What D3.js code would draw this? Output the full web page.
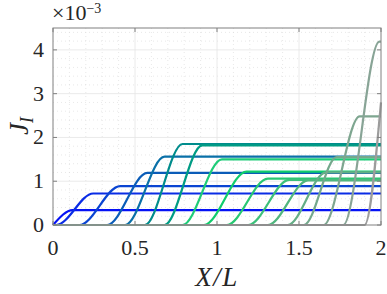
<!DOCTYPE html>
<html>
<head>
<meta charset="utf-8">
<script src="https://cdn.jsdelivr.net/npm/d3@7"></script>
<style>
  body { margin: 0; background: #fff; }
  svg { display: block; }
</style>
</head>
<body>
<div id="chart"></div>
<script>
// front snapshots: where the front leaves zero, where it reaches the plateau, plateau level (x1e-3)
const frontStart = [0, 0.02, 0.16, 0.33, 0.44, 0.56, 0.68, 0.79, 0.92, 1.06, 1.19, 1.31, 1.43, 1.53, 1.65, 1.77, 1.90]
const frontTop   = [0.12, 0.245, 0.41, 0.575, 0.68, 0.79, 0.91, 1.03, 1.18, 1.31, 1.44, 1.555, 1.665, 1.73, 1.87, 1.99, 2.0]
const plateau    = [0.34, 0.72, 0.89, 1.19, 1.56, 1.85, 1.82, 1.50, 1.22, 1.06, 1.03, 1.02, 1.20, 1.55, 2.48, 4.19, 2.8]
const lineColors = ['#0512f5', '#0a2ce6', '#0a44d2', '#0a5cb8', '#0a70a8', '#008c8c', '#009c84', '#1ecc78',
                    '#10cc6c', '#28c872', '#3cc07a', '#50b67e', '#64ae86', '#74a88c', '#7ea690', '#88a496', '#9c9c9c']
// the last snapshot is only recorded on its right part
const recordFrom = [0, 0, 0, 0, 0, 0, 0, 0, 0, 0, 0, 0, 0, 0, 0, 0, 0.9]

const xTicks = [0, 0.5, 1, 1.5, 2]
const yTicks = [0, 1, 2, 3, 4]
const xMinor = d3.range(1, 20).map(i => i / 10)
const yMinor = d3.range(1, 23).map(i => i / 5)

const W = 387, H = 294
const FONT = '"Liberation Serif", "DejaVu Serif", serif'
const x = d3.scaleLinear().domain([0, 2]).range([53, 381])
const y = d3.scaleLinear().domain([0, 4.5]).range([225, 28])

const svg = d3.select('#chart').append('svg')
    .attr('width', W)
    .attr('height', H)
    .style('font-family', FONT)

// minor grid (dotted)
svg.append('g').selectAll('line')
    .data(xMinor.filter(v => !xTicks.includes(v)))
    .join('line')
    .attr('x1', d => x(d)).attr('x2', d => x(d))
    .attr('y1', y(0)).attr('y2', y(4.5))
    .attr('stroke', '#d8d8d8').attr('stroke-width', 0.6)
    .attr('stroke-dasharray', '1,3')
svg.append('g').selectAll('line')
    .data(yMinor.filter(v => !yTicks.includes(v)))
    .join('line')
    .attr('x1', x(0)).attr('x2', x(2))
    .attr('y1', d => y(d)).attr('y2', d => y(d))
    .attr('stroke', '#d8d8d8').attr('stroke-width', 0.6)
    .attr('stroke-dasharray', '1,3')

// major grid
svg.append('g').selectAll('line')
    .data(xTicks.slice(1, -1))
    .join('line')
    .attr('x1', d => x(d)).attr('x2', d => x(d))
    .attr('y1', y(0)).attr('y2', y(4.5))
    .attr('stroke', '#e4e4e4').attr('stroke-width', 0.8)
svg.append('g').selectAll('line')
    .data(yTicks.slice(1))
    .join('line')
    .attr('x1', x(0)).attr('x2', x(2))
    .attr('y1', d => y(d)).attr('y2', d => y(d))
    .attr('stroke', '#e4e4e4').attr('stroke-width', 0.8)

// snapshots
const line = d3.line()
    .x(d => x(d[0]))
    .y(d => y(d[1]))
    .curve(d3.curveMonotoneX)

const curves = plateau.map((p, i) => {
    let pts = []
    if (frontStart[i] > recordFrom[i]) pts.push([recordFrom[i], 0])
    pts.push([frontStart[i], 0])
    pts.push([frontTop[i], p])
    if (frontTop[i] < 2) pts.push([2, p])
    return pts
})

svg.append('g')
    .selectAll('path')
    .data(curves)
    .join('path')
    .attr('d', line)
    .attr('fill', 'none')
    .attr('stroke', (d, i) => lineColors[i])
    .attr('stroke-width', 2.2)

// box + inward ticks
const axisColor = '#808080'
svg.append('rect')
    .attr('x', x(0)).attr('y', y(4.5))
    .attr('width', x(2) - x(0)).attr('height', y(0) - y(4.5))
    .attr('fill', 'none').attr('stroke', axisColor).attr('stroke-width', 1)

const tickLen = 4
const tk = svg.append('g').attr('stroke', axisColor).attr('stroke-width', 1)
xTicks.forEach(v => {
    tk.append('line').attr('x1', x(v)).attr('x2', x(v)).attr('y1', y(0)).attr('y2', y(0) - tickLen)
    tk.append('line').attr('x1', x(v)).attr('x2', x(v)).attr('y1', y(4.5)).attr('y2', y(4.5) + tickLen)
})
yTicks.forEach(v => {
    tk.append('line').attr('x1', x(0)).attr('x2', x(0) + tickLen).attr('y1', y(v)).attr('y2', y(v))
    tk.append('line').attr('x1', x(2)).attr('x2', x(2) - tickLen).attr('y1', y(v)).attr('y2', y(v))
})

// tick labels
svg.append('g').selectAll('text')
    .data(xTicks)
    .join('text')
    .attr('x', d => x(d))
    .attr('y', 255)
    .attr('text-anchor', 'middle')
    .attr('font-family', FONT)
    .attr('font-size', 22)
    .attr('fill', '#262626')
    .text(d => d)
svg.append('g').selectAll('text')
    .data(yTicks)
    .join('text')
    .attr('x', 44)
    .attr('y', d => y(d) + 7)
    .attr('text-anchor', 'end')
    .attr('font-family', FONT)
    .attr('font-size', 22)
    .attr('fill', '#262626')
    .text(d => d)

// exponent
const ex = svg.append('text').attr('x', 52).attr('y', 20)
    .attr('font-family', FONT).attr('font-size', 22).attr('fill', '#262626')
ex.append('tspan').text('×10')
ex.append('tspan').attr('font-size', 14).attr('dy', -7).text('−3')

// axis labels
svg.append('text')
    .attr('x', 217).attr('y', 286)
    .attr('text-anchor', 'middle')
    .attr('font-family', FONT)
    .attr('font-size', 27)
    .attr('letter-spacing', 1.5)
    .attr('font-style', 'italic')
    .attr('fill', '#262626')
    .text('X/L')

const yl = svg.append('text')
    .attr('transform', 'translate(28,126) rotate(-90)')
    .attr('text-anchor', 'middle')
    .attr('font-family', FONT)
    .attr('font-size', 27)
    .attr('font-style', 'italic')
    .attr('fill', '#262626')
yl.append('tspan').text('J')
yl.append('tspan').attr('font-size', 18).attr('dy', 5).text('I')
</script>
</body>
</html>
